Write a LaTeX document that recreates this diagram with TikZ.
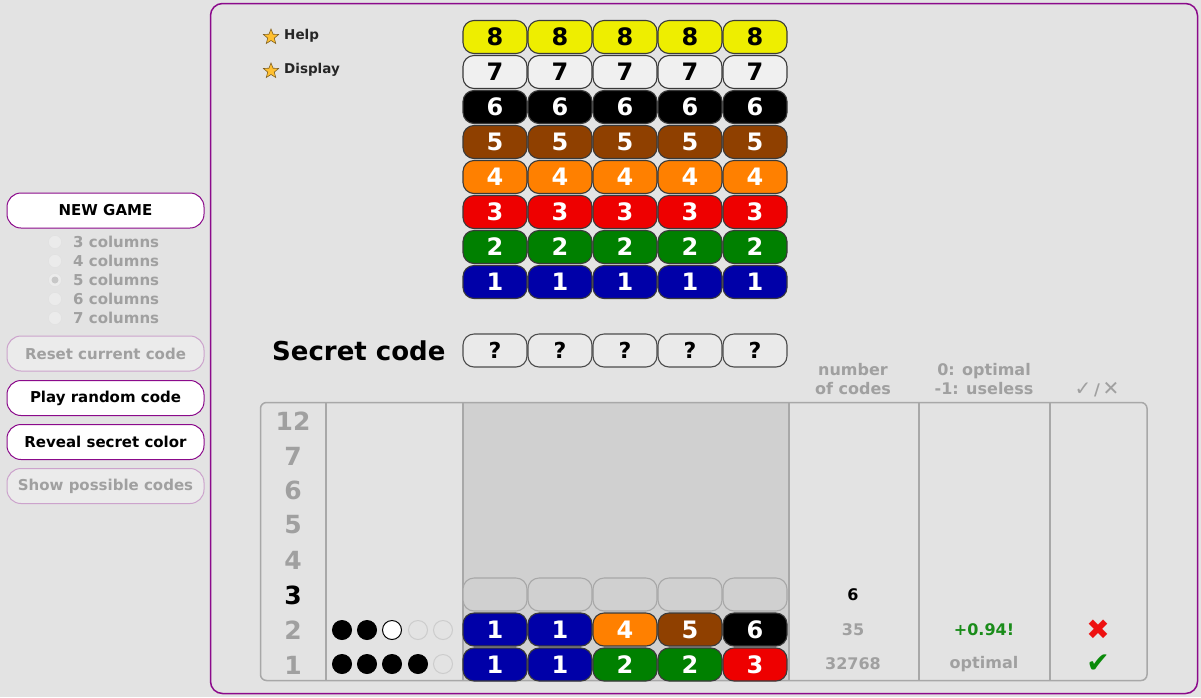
\documentclass[tikz,border=0pt]{standalone}
\usepackage{fontspec}
\setmainfont{DejaVu Sans}
\newfontfamily\symf{DejaVu Sans}
\usetikzlibrary{shapes.geometric}
\definecolor{bgc}{HTML}{E3E3E3}
\definecolor{purp}{HTML}{8B0A8B}
\definecolor{lpurp}{HTML}{CCA3CC}
\definecolor{dis}{HTML}{EBEBEB}
\definecolor{gtxt}{HTML}{A0A0A0}
\definecolor{pegb}{HTML}{3A3A3A}
\definecolor{pY}{HTML}{EEEE00}
\definecolor{pW}{HTML}{F0F0F0}
\definecolor{pK}{HTML}{000000}
\definecolor{pN}{HTML}{8F4000}
\definecolor{pO}{HTML}{FF8000}
\definecolor{pR}{HTML}{EE0000}
\definecolor{pG}{HTML}{008000}
\definecolor{pB}{HTML}{0000A8}
\definecolor{secf}{HTML}{EAEAEA}
\definecolor{tgray}{HTML}{D0D0D0}
\definecolor{tline}{HTML}{A8A8A8}
\definecolor{okg}{HTML}{1A8C1A}
\definecolor{chk}{HTML}{0A8A0A}
\definecolor{xred}{HTML}{EE1111}
\definecolor{starc}{HTML}{FFC030}
\definecolor{stard}{HTML}{806020}
\tikzset{
  peg/.style={rounded corners=11pt, draw=pegb, line width=1.1pt, minimum width=64pt, minimum height=33pt, inner sep=0pt, font=\fontsize{24}{24}\selectfont\bfseries},
  emptypeg/.style={peg, fill=tgray, draw=tline},
  btn/.style={draw=purp, fill=white, text=black, line width=1pt, rounded corners=14pt, minimum width=197pt, minimum height=35pt, inner sep=0pt, font=\fontsize{15}{18}\selectfont\bfseries},
  dbtn/.style={btn, draw=lpurp, fill=dis, text=gtxt},
  radio/.style={circle, draw=black!12, fill=black!8, minimum size=13pt, inner sep=0pt},
  radiotxt/.style={anchor=west, inner sep=0pt, text=gtxt, font=\fontsize{15}{18}\selectfont\bfseries},
  staricon/.style={star, star points=5, star point ratio=2.3, fill=starc, draw=stard, line width=0.6pt, minimum size=16pt, inner sep=0pt},
  menutxt/.style={anchor=west, inner sep=0pt, text=black!85, font=\fontsize{13.5}{15}\selectfont\bfseries},
  hdr/.style={align=center, inner sep=0pt, text=gtxt, font=\fontsize{16}{19}\selectfont\bfseries},
  rownum/.style={inner sep=0pt, text=gtxt, font=\fontsize{25}{25}\selectfont\bfseries},
  cell/.style={inner sep=0pt, text=gtxt, font=\fontsize{16}{18}\selectfont\bfseries},
  dot/.style={circle, minimum size=19pt, inner sep=0pt, line width=1pt},
  blackdot/.style={dot, fill=black, draw=black},
  whitedot/.style={dot, fill=white, draw=black},
  nodot/.style={dot, fill=none, draw=black!20},
}
\begin{document}
\begin{tikzpicture}[x=1pt,y=-1pt]
\useasboundingbox (0,0) rectangle (1201,697);
\fill[bgc] (0,0) rectangle (1201,697);
% main panel
\draw[purp, line width=1.5pt, fill=bgc, rounded corners=12pt] (210.5,3.5) rectangle (1197.5,693.5);

% left controls
\node[btn] (newgame) at (105.5,210.5) {NEW GAME};
\foreach \n/\y in {3/242,4/261,5/280,6/299,7/318}{
  \node[radio] (r\n) at (55,\y) {};
  \node[radiotxt] (rt\n) at (73,\y) {\n\ columns};
}
\fill[black!22] (r5.center) circle (3.5pt);
\node[dbtn] (reset) at (105.5,353.5) {Reset current code};
\node[btn] (play) at (105.5,398) {Play random code};
\node[btn] (reveal) at (105.5,442) {Reveal secret color};
\node[dbtn] (show) at (105.5,486) {Show possible codes};

% help / display
\node[staricon] (st1) at (271,37) {};
\node[menutxt] (help) at (284,36) {Help};
\node[staricon] (st2) at (271,71) {};
\node[menutxt] (disp) at (284,70) {Display};

% palette
\foreach \k/\fc/\tc in {8/pY/black,7/pW/black,6/pK/white,5/pN/white,4/pO/white,3/pR/white,2/pG/white,1/pB/white}{
  \foreach \c in {1,...,5}{
    \node[peg, fill=\fc, text=\tc] (pal\k-\c) at ({430+65*\c},{37+35*(8-\k)}) {\k};
  }
}

% secret code
\node[anchor=west, inner sep=0pt, font=\fontsize{26}{26}\selectfont\bfseries] (seclabel) at (272,351) {Secret code};
\foreach \c in {1,...,5}{
  \node[peg, fill=secf, draw=black!70, font=\fontsize{22}{22}\selectfont\bfseries] (sec\c) at ({430+65*\c},350.5) {?};
}

% headers
\node[hdr] (h1) at (853,379.5) {number\\of codes};
\node[hdr] (h2) at (984,379.5) {0: optimal\\-1: useless};
\node[hdr, anchor=base] (h3) at (1097,395) {{\symf\fontsize{20}{20}\selectfont ✓}\,/\,{\symf\fontsize{20}{20}\selectfont ✕}};

% table
\fill[tgray] (463,403) rectangle (789,680);
\draw[tline, line width=1.5pt, rounded corners=6pt] (260.5,402.5) rectangle (1147,680.5);
\foreach \x in {326,463,789,919,1050}{
  \draw[tline, line width=1.2pt] (\x,402.5) -- (\x,680.5);
}
\foreach \n/\y in {12/421,7/456,6/490,5/525,4/560,2/630,1/665}{
  \node[rownum] (rn\n) at (293,\y) {\n};
}
\node[rownum, text=black] (rn3) at (293,595) {3};

% row 3 empty
\foreach \c in {1,...,5}{
  \node[emptypeg] (t3-\c) at ({430+65*\c},594.5) {};
}
% row 2
\foreach \c/\k/\fc in {1/1/pB,2/1/pB,3/4/pO,4/5/pN,5/6/pK}{
  \node[peg, fill=\fc, text=white] (t2-\c) at ({430+65*\c},629.5) {\k};
}
% row 1
\foreach \c/\k/\fc in {1/1/pB,2/1/pB,3/2/pG,4/2/pG,5/3/pR}{
  \node[peg, fill=\fc, text=white] (t1-\c) at ({430+65*\c},664.5) {\k};
}
% feedback dots
\node[blackdot] (f2a) at (342,630) {};
\node[blackdot] (f2b) at (367,630) {};
\node[whitedot] (f2c) at (392,630) {};
\node[nodot] (f2d) at (418,630) {};
\node[nodot] (f2e) at (443,630) {};
\node[blackdot] (f1a) at (342,664) {};
\node[blackdot] (f1b) at (367,664) {};
\node[blackdot] (f1c) at (392,664) {};
\node[blackdot] (f1d) at (418,664) {};
\node[nodot] (f1e) at (443,664) {};

% data
\node[cell, text=black] (n3) at (853,595) {6};
\node[cell] (n2) at (853,629.5) {35};
\node[cell] (n1) at (853,664) {32768};
\node[cell, text=okg] (o2) at (984,629.5) {+0.94!};
\node[cell] (o1) at (984,664) {optimal};
\node[inner sep=0pt, text=xred, font=\symf\fontsize{28}{28}\selectfont] (x2) at (1098,629.5) {✖};
\node[inner sep=0pt, text=chk, font=\symf\fontsize{28}{28}\selectfont] (c1) at (1098,664) {✔};
\end{tikzpicture}
\end{document}
